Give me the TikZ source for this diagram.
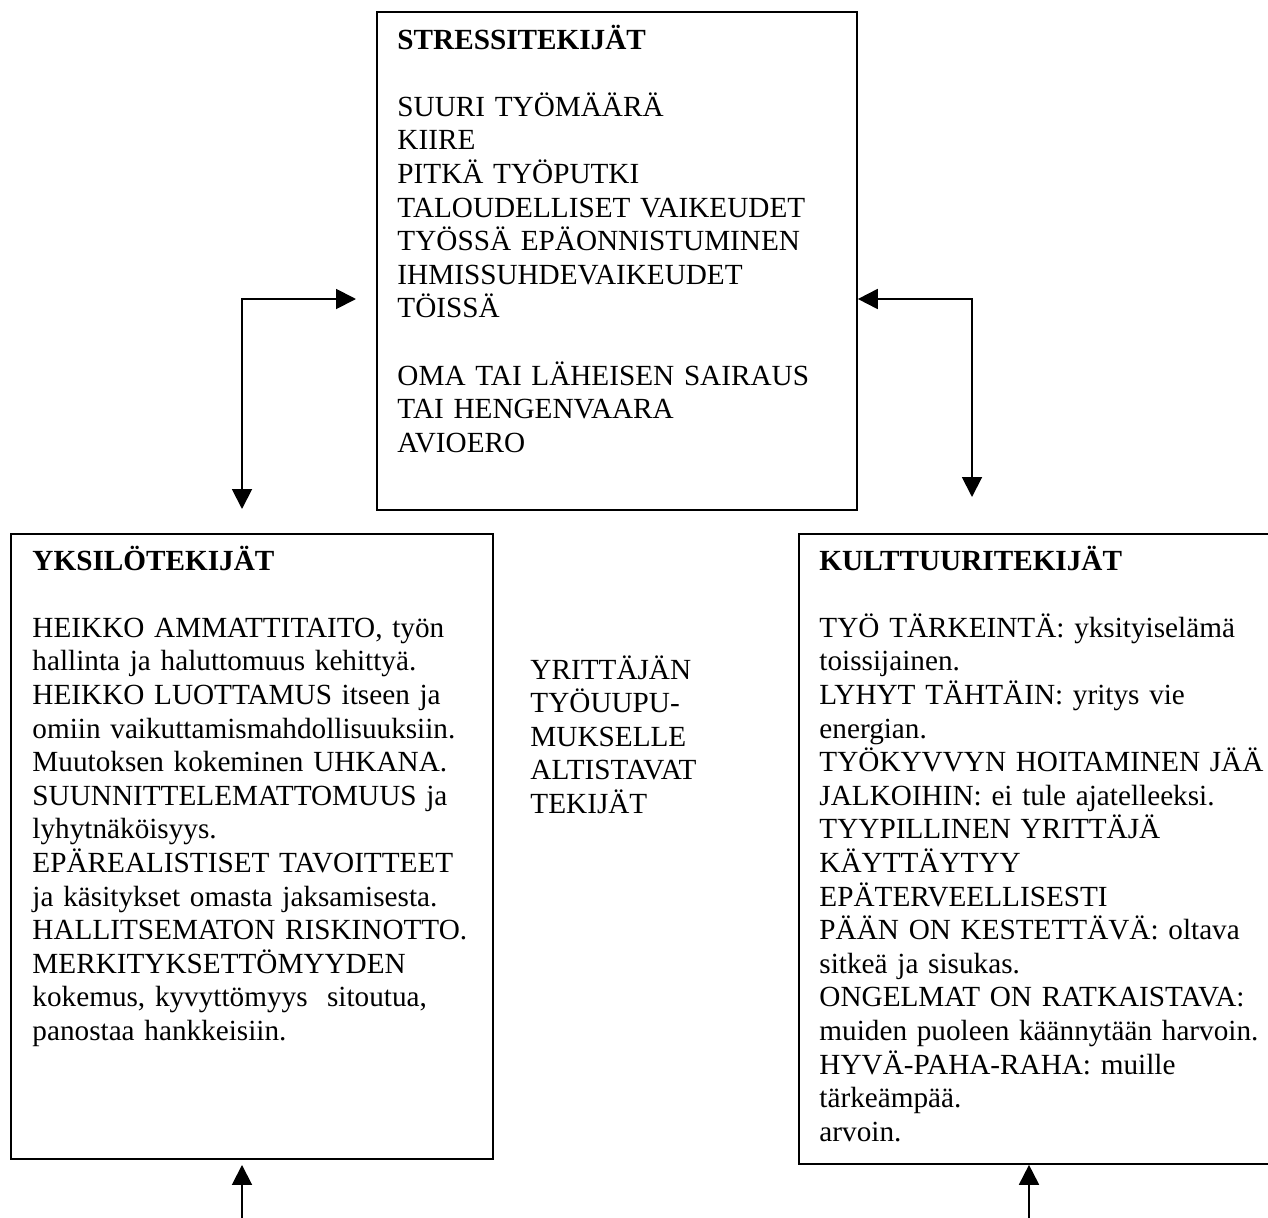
\documentclass[tikz,border=0pt]{standalone}
\usepackage{fontspec}
\setmainfont{Liberation Serif}
\usetikzlibrary{arrows.meta,calc}

\tikzset{
  box/.style={draw, line width=0.8pt, inner sep=0pt, anchor=north west},
  txt/.style={inner sep=0pt, anchor=base west, align=left,
              font=\fontsize{12}{13.8}\selectfont},
  tip/.style={Triangle[length=8.2pt,width=8.2pt]},
  conn/.style={line width=0.8pt, {Triangle[length=8.2pt,width=8.2pt]}-{Triangle[length=8.2pt,width=8.2pt]}},
  arr/.style={line width=0.8pt, -{Triangle[length=8.2pt,width=8.2pt]}}
}

\begin{document}
\begin{tikzpicture}[x=0.4107pt, y=-0.4107pt]
  \useasboundingbox (0,0) rectangle (1268,1218);

  % boxes
  \node[box, minimum width=197.1pt, minimum height=204.5pt] (stress) at (376,11) {};
  \node[box, minimum width=198.0pt, minimum height=256.7pt] (yksilo) at (10,533) {};
  \node[box, minimum width=198.0pt, minimum height=258.7pt] (kultt) at (798,533) {};

  % texts
  \node[txt, text width=185pt] (stresstxt) at ($(stress.north west)+(21,38)$)
    {\textbf{STRESSITEKIJÄT}\\[13.8pt]
     SUURI TYÖMÄÄRÄ\\
     KIIRE\\
     PITKÄ TYÖPUTKI\\
     TALOUDELLISET VAIKEUDET\\
     TYÖSSÄ EPÄONNISTUMINEN\\
     IHMISSUHDEVAIKEUDET\\
     TÖISSÄ\\[13.8pt]
     \makebox[179.1pt][s]{OMA TAI LÄHEISEN SAIRAUS}\\
     TAI HENGENVAARA\\
     AVIOERO};

  \node[txt, text width=188pt] (yksilotxt) at ($(yksilo.north west)+(22,37)$)
    {\textbf{YKSILÖTEKIJÄT}\\[13.8pt]
     HEIKKO AMMATTITAITO, työn\\
     hallinta ja haluttomuus kehittyä.\\
     HEIKKO LUOTTAMUS itseen ja\\
     omiin vaikuttamismahdollisuuksiin.\\
     Muutoksen kokeminen UHKANA.\\
     SUUNNITTELEMATTOMUUS ja\\
     lyhytnäköisyys.\\
     EPÄREALISTISET TAVOITTEET\\
     ja käsitykset omasta jaksamisesta.\\
     HALLITSEMATON RISKINOTTO.\\
     MERKITYKSETTÖMYYDEN\\
     kokemus, kyvyttömyys\ \ sitoutua,\\
     panostaa hankkeisiin.};

  \node[txt, text width=193pt] (kulttxt) at ($(kultt.north west)+(21,37)$)
    {\textbf{KULTTUURITEKIJÄT}\\[13.8pt]
     TYÖ TÄRKEINTÄ: yksityiselämä\\
     toissijainen.\\
     LYHYT TÄHTÄIN: yritys vie\\
     energian.\\
     TYÖKYVVYN HOITAMINEN JÄÄ\\
     JALKOIHIN: ei tule ajatelleeksi.\\
     TYYPILLINEN YRITTÄJÄ\\
     KÄYTTÄYTYY\\
     EPÄTERVEELLISESTI\\
     PÄÄN ON KESTETTÄVÄ: oltava\\
     sitkeä ja sisukas.\\
     ONGELMAT ON RATKAISTAVA:\\
     muiden puoleen käännytään harvoin.\\
     HYVÄ-PAHA-RAHA: muille\\
     tärkeämpää.\\
     arvoin.};

  \node[txt, text width=100pt] (otsikko) at (530,679)
    {YRITTÄJÄN\\
     TYÖUUPU-\\
     MUKSELLE\\
     ALTISTAVAT\\
     TEKIJÄT};

  % connectors
  \coordinate (lA) at ($(yksilo.north west)+(232,-24)$);
  \coordinate (lB) at ($(stress.north west)+(-20,288)$);
  \draw[conn] (lA) |- (lB);

  \coordinate (rA) at ($(kultt.north west)+(174,-36)$);
  \draw[conn] (rA) |- ($(stress.north east)+(0,288)$);

  \coordinate (lbot) at (242,1218);
  \coordinate (rbot) at (1029,1218);
  \draw[arr] (lbot) -- ($(lbot |- yksilo.south)+(0,5)$);
  \draw[arr] (rbot) -- (rbot |- kultt.south);
\end{tikzpicture}
\end{document}
